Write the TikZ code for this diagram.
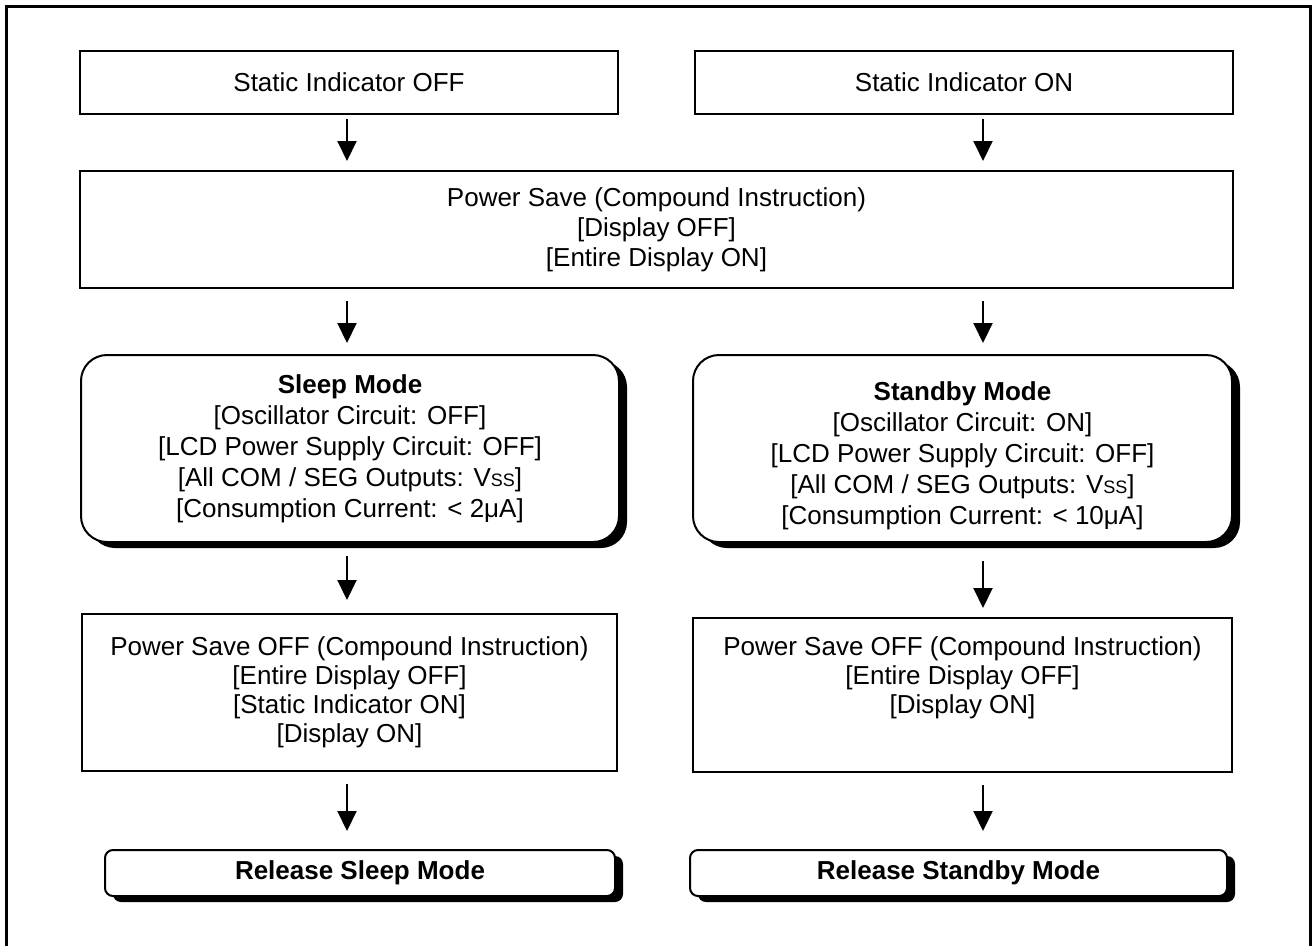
\documentclass[tikz,border=0pt]{standalone}
\usepackage{fontspec}
\setmainfont{Liberation Sans}
\usetikzlibrary{shadows,arrows.meta}
\newcommand{\myvss}{V{\fontsize{18}{30}\selectfont SS}}
\begin{document}
\begin{tikzpicture}[x=1pt,y=-1pt,
  txt/.style={font=\fontsize{26}{30}\selectfont, align=center},
  plainbox/.style={txt, draw, line width=2pt, fill=white, inner sep=0pt},
  shd/.style={drop shadow={shadow xshift=8pt, shadow yshift=-6pt, opacity=1, fill=black}},
  modebox/.style={plainbox, rounded corners=26pt, shd, font=\fontsize{26}{31}\selectfont},
  relbox/.style={plainbox, rounded corners=8pt, shd},
  offbox/.style={plainbox, font=\fontsize{26}{29}\selectfont},
  arr/.style={line width=2pt, -{Triangle[length=20pt,width=19pt]}}
]
\useasboundingbox (0,0) rectangle (1312,946);
\draw[line width=3pt] (6,946) -- (6,6) -- (1310,6) -- (1310,946);

\coordinate (L) at (347,0);
\coordinate (R) at (983,0);

\node[plainbox, minimum width=538pt, minimum height=63pt] (soff) at (349,82.5) {Static Indicator OFF};
\node[plainbox, minimum width=538pt, minimum height=63pt] (son) at (964,82.5) {Static Indicator ON};

\node[plainbox, minimum width=1153pt, minimum height=117pt] (ps) at (656.5,229.5)
  {Power Save (Compound Instruction)\\ {[}Display OFF{]}\\ {[}Entire Display ON{]}};

\node[modebox, minimum width=538pt, minimum height=187pt] (sleep) at (350,448.5)
  {\textbf{Sleep Mode}\\ {[}Oscillator Circuit: OFF{]}\\ {[}LCD Power Supply Circuit: OFF{]}\\ {[}All COM / SEG Outputs: \myvss{]}\\ {[}Consumption Current: < 2μA{]}};
\node[modebox, minimum width=539pt, minimum height=187pt] (stby) at (962.5,448.5)
  {\rule{0pt}{34pt}\textbf{Standby Mode}\\ {[}Oscillator Circuit: ON{]}\\ {[}LCD Power Supply Circuit: OFF{]}\\ {[}All COM / SEG Outputs: \myvss{]}\\ {[}Consumption Current: < 10μA{]}};

\node[offbox, minimum width=535pt, minimum height=157pt] (offl) at (349.5,692.5)
  {Power Save OFF (Compound Instruction)\\ {[}Entire Display OFF{]}\\ {[}Static Indicator ON{]}\\ {[}Display ON{]}};
\node[offbox, minimum width=539pt, minimum height=154pt] (offr) at (962.5,695)
  {Power Save OFF (Compound Instruction)\\ {[}Entire Display OFF{]}\\ {[}Display ON{]}\rule[-40pt]{0pt}{1pt}};

\node[relbox, minimum width=510pt, minimum height=46pt] (rell) at (360,873) {\textbf{Release Sleep Mode}};
\node[relbox, minimum width=537pt, minimum height=46pt] (relr) at (958.5,873) {\textbf{Release Standby Mode}};

\draw[arr, shorten <=4pt, shorten >=9pt] (soff.south -| L) -- (ps.north -| L);
\draw[arr, shorten <=4pt, shorten >=9pt] (son.south -| R) -- (ps.north -| R);
\draw[arr, shorten <=12pt, shorten >=11pt] (ps.south -| L) -- (sleep.north -| L);
\draw[arr, shorten <=12pt, shorten >=11pt] (ps.south -| R) -- (stby.north -| R);
\draw[arr, shorten <=13pt, shorten >=13pt] (sleep.south -| L) -- (offl.north -| L);
\draw[arr, shorten <=18pt, shorten >=9pt] (stby.south -| R) -- (offr.north -| R);
\draw[arr, shorten <=12pt, shorten >=18pt] (offl.south -| L) -- (rell.north -| L);
\draw[arr, shorten <=12pt, shorten >=18pt] (offr.south -| R) -- (relr.north -| R);
\end{tikzpicture}
\end{document}
